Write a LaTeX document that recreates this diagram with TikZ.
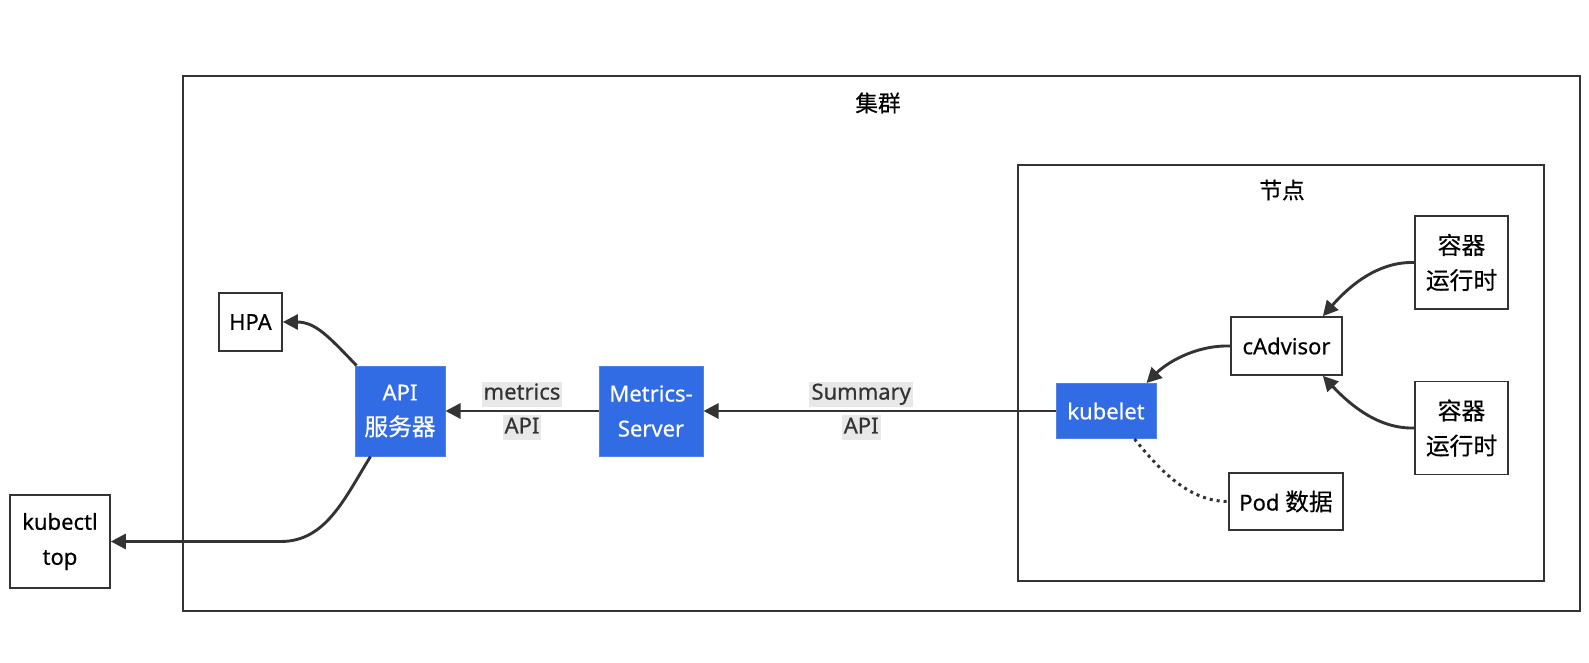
\documentclass[tikz,border=0pt]{standalone}
\usepackage{fontspec}
\setmainfont{Noto Sans}[FakeBold=0.5]
\newfontfamily\cjk{Noto Sans CJK SC}[Scale=1.08,FakeBold=0.4]
\usetikzlibrary{arrows.meta}
\definecolor{kblue}{HTML}{326CE5}
\definecolor{dk}{HTML}{333333}
\definecolor{lblbg}{HTML}{E8E8E8}
\begin{document}
\begin{tikzpicture}[x=1pt,y=-1pt,
  font=\fontsize{22}{35}\selectfont,
  box/.style={draw=dk, line width=1.7pt, fill=white, inner sep=0pt, align=center, text=black},
  bbox/.style={draw=kblue!85!white, fill=kblue, line width=1pt, inner sep=0pt, align=center, text=white},
  arr/.style={draw=dk, line width=2.9pt, -{Triangle[length=15pt,width=15pt]}},
  dotl/.style={draw=dk, line width=3pt, dash pattern=on 3pt off 4pt},
  lbl/.style={fill=lblbg, text=dk, inner sep=2pt, text height=16pt, text depth=5pt},
  grp/.style={draw=dk, line width=1.4pt},
  gtitle/.style={font=\fontsize{21}{26}\selectfont\cjk, text=black}
]
\useasboundingbox (0,0) rectangle (1589,663);
% groups
\draw[grp] (183,76) rectangle (1580,611);
\node[gtitle] (tcluster) at (878,103) {集群};
\draw[grp] (1018,165) rectangle (1544,581);
\node[gtitle] (tnode) at (1282,190) {节点};
% nodes
\node[box, minimum width=63, minimum height=58] (hpa) at (250.5,322) {HPA};
\node[bbox, minimum width=90, minimum height=90] (api) at (400,411) {API\\{\cjk 服务器}};
\node[box, minimum width=100, minimum height=93] (kubectl) at (60,541.5) {kubectl\\top};
\node[bbox, minimum width=104, minimum height=90] (ms) at (651,411) {Metrics-\\Server};
\node[bbox, minimum width=100, minimum height=55] (kubelet) at (1106,411) {kubelet};
\node[box, minimum width=111, minimum height=58] (cad) at (1286.5,346) {cAdvisor};
\node[box, minimum width=93, minimum height=93] (cr1) at (1461.5,262.5) {\cjk 容器\\\cjk 运行时};
\node[box, minimum width=93, minimum height=93] (cr2) at (1461.5,428) {\cjk 容器\\\cjk 运行时};
\node[box, minimum width=114, minimum height=57] (pod) at (1286,501.5) {Pod {\cjk 数据}};
% edges
\draw[arr] (ms.west) -- (api.east)
  node[lbl, pos=0.5, above=3pt] (l1a) {metrics}
  node[lbl, pos=0.5, below=3pt] (l1b) {API};
\draw[arr] (kubelet.west) -- (ms.east)
  node[lbl, pos=0.552, above=3pt] (l2a) {Summary}
  node[lbl, pos=0.552, below=3pt] (l2b) {API};
\draw[arr] ([xshift=2pt]api.north west) .. controls +(-27,-28) and +(33,0) .. (hpa.east);
\draw[arr] ([xshift=16pt]api.south west) .. controls +(-26,42) and +(45,0) .. ([xshift=170pt]kubectl.east) -- (kubectl.east);
\draw[arr] (cad.west) .. controls +(-36,-1) and +(19,-19) .. ([xshift=-10pt]kubelet.north east);
\draw[arr] (cr1.west) .. controls +(-35,-1) and +(28,-32) .. ([xshift=-20pt]cad.north east);
\draw[arr] (cr2.west) .. controls +(-35,1) and +(28,30) .. ([xshift=-20pt]cad.south east);
\draw[dotl] ([xshift=-22pt]kubelet.south east) .. controls +(26,32) and +(-39,0) .. (pod.west);
\end{tikzpicture}
\end{document}
